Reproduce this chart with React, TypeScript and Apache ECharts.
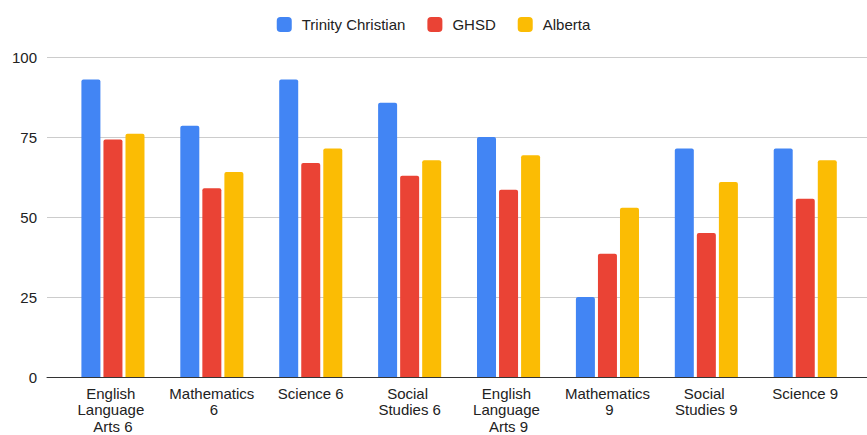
import React, { useEffect, useRef } from "react";
import * as echarts from "echarts";

const categories = [
  "English Language Arts 6",
  "Mathematics 6",
  "Science 6",
  "Social Studies 6",
  "English Language Arts 9",
  "Mathematics 9",
  "Social Studies 9",
  "Science 9",
];
const trinityChristian = [93, 78.5, 93, 85.7, 75, 25, 71.4, 71.4];
const ghsd = [74.2, 59, 66.9, 62.9, 58.5, 38.5, 45, 55.7];
const alberta = [76, 64.1, 71.4, 67.7, 69.3, 52.9, 60.9, 67.7];
const seriesNames = ["Trinity Christian", "GHSD", "Alberta"];
const colors = ["#4285F4", "#EA4335", "#FBBC04"];
const yTicks = { min: 0, max: 100, interval: 25 };

const FONT = "'Liberation Sans', Arial, sans-serif";

export default function App() {
  const ref = useRef<HTMLDivElement>(null);
  useEffect(() => {
    if (!ref.current) return;
    const chart = echarts.init(ref.current, null, { renderer: "svg" });
    const values = [trinityChristian, ghsd, alberta];
    chart.setOption({
      animation: false,
      textStyle: { fontFamily: FONT },
      legend: {
        top: 12,
        left: "center",
        itemWidth: 15,
        itemHeight: 15,
        itemGap: 22,
        icon: "roundRect",
        textStyle: { fontSize: 15, color: "#222", fontFamily: FONT, padding: [0, 0, 0, 5] },
        data: seriesNames,
      },
      grid: [
        { left: 47, right: 0, top: 57, bottom: 58, containLabel: false, outerBoundsMode: "none" },
        { left: 63.5, right: 12.3, top: 57, bottom: 58, containLabel: false, outerBoundsMode: "none" },
      ],
      xAxis: [
        {
          gridIndex: 0,
          type: "category",
          data: [""],
          axisLine: { show: true, lineStyle: { color: "#333", width: 1 } },
          axisTick: { show: false },
          axisLabel: { show: false },
        },
        {
          gridIndex: 1,
          type: "category",
          data: categories,
          axisLine: { show: false },
          axisTick: { show: false },
          axisLabel: {
            interval: 0,
            margin: 8,
            fontSize: 15,
            lineHeight: 16.5,
            color: "#222",
            fontFamily: FONT,
            width: 88,
            overflow: "break",
            align: "center",
          },
        },
      ],
      yAxis: [
        {
          gridIndex: 0,
          type: "value",
          min: yTicks.min,
          max: yTicks.max,
          interval: yTicks.interval,
          axisLine: { show: false },
          axisTick: { show: false },
          axisLabel: { fontSize: 15, color: "#222", margin: 10, fontFamily: FONT },
          splitLine: { lineStyle: { color: "#cccccc", width: 1 } },
        },
        {
          gridIndex: 1,
          type: "value",
          min: yTicks.min,
          max: yTicks.max,
          interval: yTicks.interval,
          show: false,
          splitLine: { show: false },
        },
      ],
      series: seriesNames.map((name, i) => ({
        name,
        type: "bar",
        xAxisIndex: 1,
        yAxisIndex: 1,
        data: values[i],
        barWidth: 19,
        barGap: "16%",
        itemStyle: { color: colors[i], borderRadius: [2, 2, 0, 0] },
      })),
    });
    return () => chart.dispose();
  }, []);
  return (
    <div
      ref={ref}
      style={{ position: "fixed", left: 0, top: 0, width: 867, height: 435, background: "#fff" }}
    />
  );
}
